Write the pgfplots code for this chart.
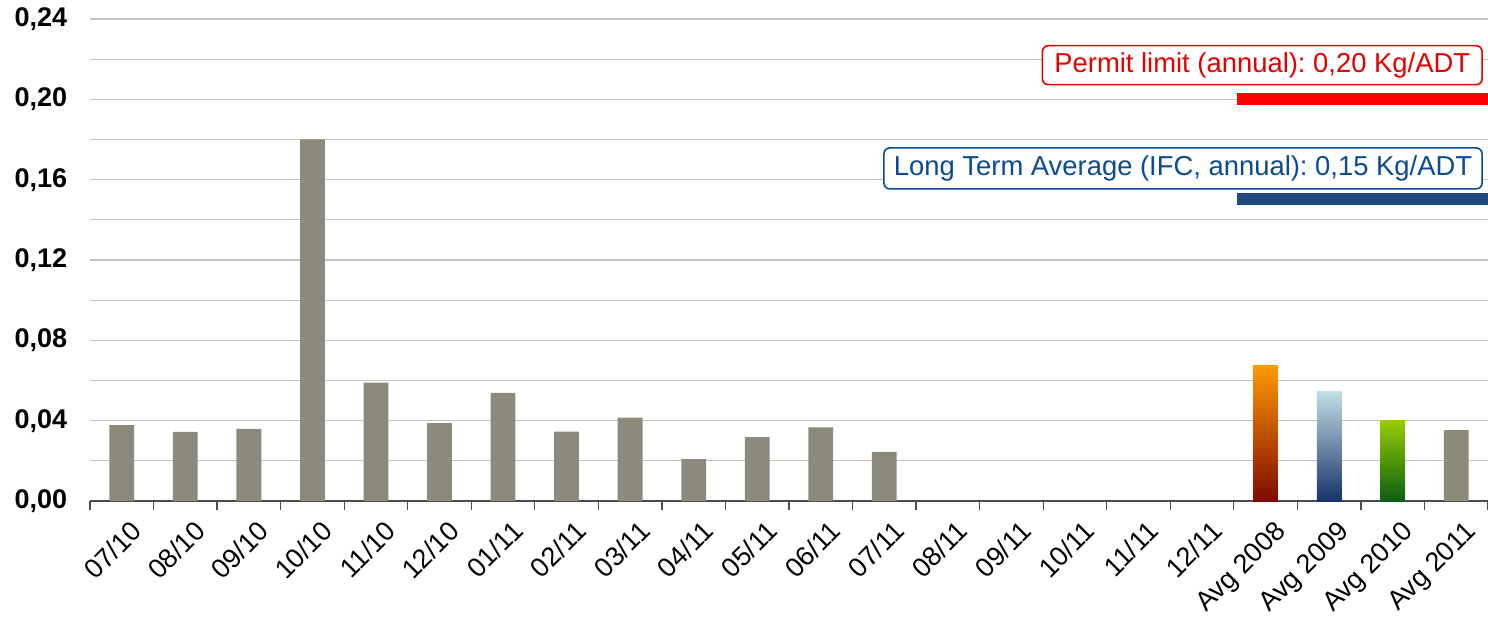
\documentclass[border=0pt]{standalone}
\usepackage{pgfplots}
\pgfplotsset{compat=1.18}
\usepackage{fontspec}
\setmainfont{Liberation Sans}
\frenchspacing
\definecolor{bargray}{RGB}{140,139,123}
\definecolor{gridc}{RGB}{196,194,186}
\definecolor{ltblue}{RGB}{31,73,125}
\definecolor{txtblue}{RGB}{10,75,145}
\begin{document}
\begin{tikzpicture}
\begin{axis}[
  scale only axis, width=699pt, height=241pt,
  xmin=-0.5, xmax=21.5, ymin=0, ymax=0.24,
  axis x line*=bottom, axis y line*=left,
  y axis line style={draw=none},
  x axis line style={draw=black!70, line width=0.6pt, -},
  xtick={0,...,21},
  xticklabels={07/10,08/10,09/10,10/10,11/10,12/10,01/11,02/11,03/11,04/11,05/11,06/11,07/11,08/11,09/11,10/11,11/11,12/11,Avg 2008,Avg 2009,Avg 2010,Avg 2011},
  major x tick style={draw=none},
  minor xtick={-0.5,0.5,...,21.5},
  minor x tick style={draw=black!70, line width=0.6pt},
  minor tick length=4.5pt,
  tick align=outside,
  xticklabel style={rotate=45, anchor=north east, font=\fontsize{13.5}{14}\selectfont, inner sep=0pt, xshift=-0.5pt, yshift=-6pt},
  ytick={0,0.04,...,0.241},
  minor ytick={0.02,0.06,...,0.23},
  major y tick style={draw=none},
  minor y tick style={draw=none},
  ymajorgrids, yminorgrids,
  major grid style={draw=gridc, line width=0.6pt},
  minor grid style={draw=gridc, line width=0.6pt},
  yticklabel style={font=\fontsize{13.5}{15}\selectfont\bfseries, inner sep=0pt, xshift=-7pt},
  /pgf/number format/assume math mode=true,
  yticklabel={\pgfmathprintnumber[fixed, fixed zerofill, precision=2, use comma]{\tick}},
  ybar, bar width=0.39,
  clip=false,
]
\addplot[ybar, draw=none, fill=bargray, bar shift=0pt] coordinates {
 (0,0.0378) (1,0.0344) (2,0.0359) (3,0.1800) (4,0.0590) (5,0.0388)
 (6,0.0538) (7,0.0345) (8,0.0415) (9,0.0208) (10,0.0318) (11,0.0367)
 (12,0.0245) (21,0.0353)};
\addplot[ybar, draw=none, bar shift=0pt, top color={rgb,255:red,255;green,153;blue,0}, bottom color={rgb,255:red,128;green,10;blue,0}] coordinates {(18,0.0677)};
\addplot[ybar, draw=none, bar shift=0pt, top color={rgb,255:red,192;green,222;blue,228}, bottom color={rgb,255:red,22;green,50;blue,105}] coordinates {(19,0.0543)};
\addplot[ybar, draw=none, bar shift=0pt, top color={rgb,255:red,153;green,204;blue,0}, bottom color={rgb,255:red,10;green,95;blue,20}] coordinates {(20,0.0403)};
\addplot[sharp plot, draw=red, line width=6pt, line cap=butt] coordinates {(17.55,0.20) (21.5,0.20)};
\addplot[sharp plot, draw=ltblue, line width=6pt, line cap=butt] coordinates {(17.55,0.1502) (21.5,0.1502)};
\node[anchor=east, draw=red!90!black, line width=0.8pt, rounded corners=3pt, fill=white, text=red!90!black, font=\fontsize{13.7}{16}\selectfont, inner xsep=6pt, inner ysep=2pt, minimum height=19.5pt] at (axis cs:21.42,0.217) {Permit limit (annual): 0,20 Kg/ADT};
\node[anchor=east, draw=txtblue, line width=0.8pt, rounded corners=3pt, fill=white, text=txtblue, font=\fontsize{13.7}{16}\selectfont, inner xsep=5pt, inner ysep=2pt, minimum height=20.5pt] at (axis cs:21.42,0.1656) {Long Term Average (IFC, annual): 0,15 Kg/ADT};
\end{axis}
\pgfresetboundingbox
\path[use as bounding box] (-45pt,-57.5pt) rectangle (699pt,250.5pt);
\end{tikzpicture}
\end{document}
